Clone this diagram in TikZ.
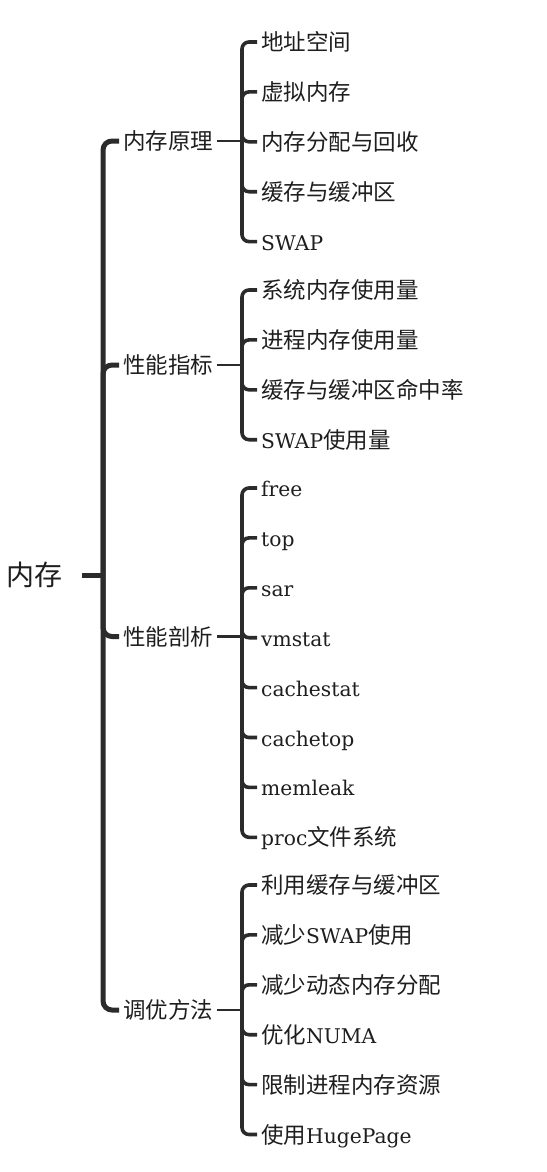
\documentclass[tikz,border=0pt]{standalone}
\usepackage{fontspec}
\setmainfont{DejaVu Serif}[Scale=0.9]
\newfontfamily\cjk{Noto Sans CJK SC}
\newfontfamily\lat{DejaVu Serif}[Scale=0.9]
\usetikzlibrary{positioning}
\definecolor{inktext}{HTML}{1E1E1E}
\definecolor{wire}{HTML}{2B2B2B}

\begin{document}
\begin{tikzpicture}[
    x=1pt, y=-1pt,
    node distance=0pt,
    rootnode/.style={anchor=east, inner xsep=19pt, inner ysep=0pt, text=inktext,
                font=\cjk\fontsize{28}{32}\selectfont,
                text height=21.5pt, text depth=0pt},
    topic/.style={anchor=west, inner xsep=4pt, inner ysep=0pt, text=inktext,
                font=\cjk\fontsize{22.5}{26}\selectfont,
                text height=17pt, text depth=0pt},
    leaf/.style={topic, text width=220pt, align=left, minimum height=49.5pt},
    trunk/.style={draw=wire, line width=5pt, rounded corners=9pt},
    stem/.style={draw=wire, line width=2.8pt},
    twig/.style={draw=wire, line width=3.6pt, rounded corners=7pt},
]
\useasboundingbox (0,0) rectangle (546,1172);

% Wurzel
\node[rootnode] (mem) at (82,575) {内存};
\coordinate (hub) at (103,575);

% Hauptthemen
\node[topic] (principle) at (119,141) {内存原理};
\node[topic] (metric) at (119,365) {性能指标};
\node[topic] (profile) at (119,636.5) {性能剖析};
\node[topic] (tuning) at (119,1010) {调优方法};

% Verzweigungspunkte
\coordinate (b1) at (242,141);
\coordinate (b2) at (242,365);
\coordinate (b3) at (242,636.5);
\coordinate (b4) at (242,1010);

% 内存原理
\node[leaf] (addr) at (257,42) {地址空间};
\node[leaf, below=of addr] (virt) {虚拟内存};
\node[leaf, below=of virt] (alloc) {内存分配与回收};
\node[leaf, below=of alloc] (buf) {缓存与缓冲区};
\node[leaf, below=of buf] (swap) {\lat SWAP};

% 性能指标
\node[leaf] (sysuse) at (257,290) {系统内存使用量};
\node[leaf, below=of sysuse] (procuse) {进程内存使用量};
\node[leaf, below=of procuse] (hitrate) {缓存与缓冲区命中率};
\node[leaf, below=of hitrate] (swapuse) {{\lat SWAP}使用量};

% 性能剖析
\node[leaf] (free) at (257,488) {\lat free};
\node[leaf, below=of free] (top) {\lat top};
\node[leaf, below=of top] (sar) {\lat sar};
\node[leaf, below=of sar] (vmstat) {\lat vmstat};
\node[leaf, below=of vmstat] (cachestat) {\lat cachestat};
\node[leaf, below=of cachestat] (cachetop) {\lat cachetop};
\node[leaf, below=of cachetop] (memleak) {\lat memleak};
\node[leaf, below=of memleak] (procfs) {{\lat proc}文件系统};

% 调优方法
\node[leaf] (usebuf) at (257,885) {利用缓存与缓冲区};
\node[leaf, below=of usebuf] (lessswap) {减少{\lat SWAP}使用};
\node[leaf, below=of lessswap] (lessdyn) {减少动态内存分配};
\node[leaf, below=of lessdyn] (numa) {优化{\lat NUMA}};
\node[leaf, below=of numa] (limit) {限制进程内存资源};
\node[leaf, below=of limit] (hugepage) {使用{\lat HugePage}};

% Verbindungen
\draw[trunk] (mem) -- (hub);
\draw[trunk] (hub) |- (principle.west);
\draw[trunk] (hub) |- (metric.west);
\draw[trunk] (hub) |- (profile.west);
\draw[trunk] (hub) |- (tuning.west);

\draw[stem] (principle) -- (b1);
\draw[twig] (b1) |- (addr.west);
\draw[twig] (b1) |- (virt.west);
\draw[twig] (b1) |- (alloc.west);
\draw[twig] (b1) |- (buf.west);
\draw[twig] (b1) |- (swap.west);

\draw[stem] (metric) -- (b2);
\draw[twig] (b2) |- (sysuse.west);
\draw[twig] (b2) |- (procuse.west);
\draw[twig] (b2) |- (hitrate.west);
\draw[twig] (b2) |- (swapuse.west);

\draw[stem] (profile) -- (b3);
\draw[twig] (b3) |- (free.west);
\draw[twig] (b3) |- (top.west);
\draw[twig] (b3) |- (sar.west);
\draw[twig] (b3) |- (vmstat.west);
\draw[twig] (b3) |- (cachestat.west);
\draw[twig] (b3) |- (cachetop.west);
\draw[twig] (b3) |- (memleak.west);
\draw[twig] (b3) |- (procfs.west);

\draw[stem] (tuning) -- (b4);
\draw[twig] (b4) |- (usebuf.west);
\draw[twig] (b4) |- (lessswap.west);
\draw[twig] (b4) |- (lessdyn.west);
\draw[twig] (b4) |- (numa.west);
\draw[twig] (b4) |- (limit.west);
\draw[twig] (b4) |- (hugepage.west);

\end{tikzpicture}
\end{document}
